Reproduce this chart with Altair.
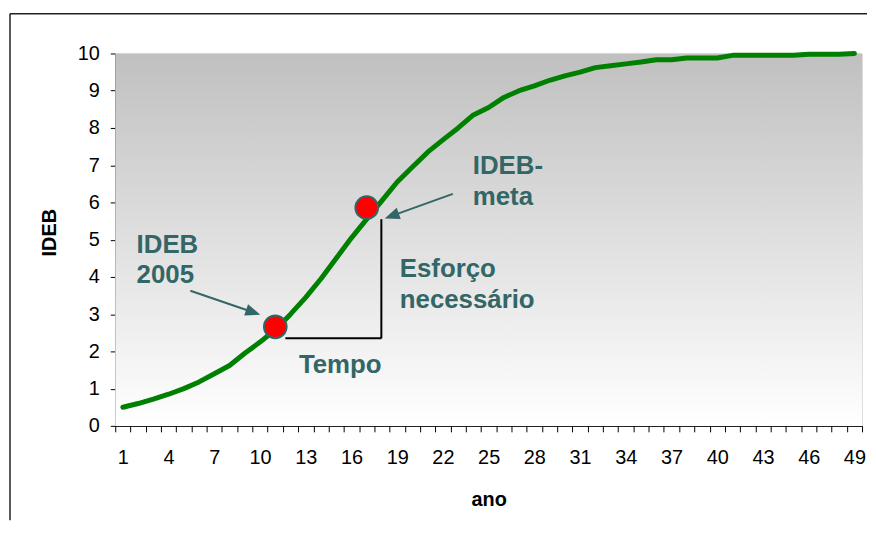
import altair as alt
import pandas as pd

# ---- data ----
anos = list(range(1, 50))
ideb = [0.50, 0.60, 0.72, 0.85, 1.00, 1.18, 1.40, 1.62, 1.95, 2.25,
        2.58, 3.00, 3.45, 3.95, 4.50, 5.05, 5.55, 6.05, 6.55, 6.95,
        7.35, 7.68, 8.00, 8.35, 8.55, 8.82, 9.00, 9.13, 9.28, 9.40,
        9.50, 9.62, 9.67, 9.72, 9.77, 9.83, 9.83, 9.88, 9.88, 9.88,
        9.95, 9.95, 9.95, 9.95, 9.95, 9.98, 9.98, 9.98, 10.00]

pontos_ano = [11, 17]
pontos_ideb = [2.66, 5.86]

rotulos = ["IDEB\n2005", "IDEB-\nmeta", "Esforço\nnecessário", "Tempo"]
rotulo_x = [1.90, 23.96, 19.17, 12.55]
rotulo_y = [4.65, 6.77, 3.99, 1.43]

linha_x = [11.66, 17.96]
linha_x2 = [17.96, 17.96]
linha_y = [2.35, 2.35]
linha_y2 = [2.35, 5.55]

seta_x = [5.43, 22.65]
seta_y = [3.63, 6.23]
seta_x2 = [9.55, 18.64]
seta_y2 = [3.05, 5.64]
seta_ang = [18.85, 160.0]

x_ticks = [i + 0.5 for i in range(0, 50)]
y_ticks = list(range(0, 11))

FONT = "Liberation Sans"
TEAL = "#336666"
W, H = 752, 375
CAT_W = W / 49.0

df_curve = pd.DataFrame({"ano": anos, "ideb": ideb})
df_pts = pd.DataFrame({"ano": pontos_ano, "ideb": pontos_ideb})
df_txt = pd.DataFrame({"ano": rotulo_x, "ideb": rotulo_y, "t": rotulos})
df_lin = pd.DataFrame({"ano": linha_x, "ano2": linha_x2, "ideb": linha_y, "ideb2": linha_y2})
df_seta = pd.DataFrame({"ano": seta_x, "ideb": seta_y, "ano2": seta_x2, "ideb2": seta_y2, "a": seta_ang})
df_one = pd.DataFrame({"k": [0]})

xscale = alt.Scale(domain=[0.5, 49.5], nice=False, zero=False)
yscale = alt.Scale(domain=[0, 10], nice=False, zero=False)

xaxis = alt.Axis(
    values=x_ticks,
    labelExpr="((datum.value + 0.5) % 3 == 1) ? toString(datum.value + 0.5) : ''",
    labelOffset=CAT_W / 2,
    tickSize=6, tickColor="black", domainColor="black",
    labelFont=FONT, labelFontSize=20, labelColor="black", labelPadding=16,
    labelOverlap=False, labelFlush=False,
    grid=False,
    title="ano", titleFont=FONT, titleFontSize=20, titleFontWeight="bold",
    titleColor="black", titleX=W / 2, titleY=80, titleBaseline="alphabetic",
    titleAlign="center",
)
yaxis = alt.Axis(
    values=y_ticks,
    tickSize=5, tickColor="black", domainColor="black",
    labelFont=FONT, labelFontSize=20, labelColor="black", labelPadding=11,
    grid=False,
    title="IDEB", titleFont=FONT, titleFontSize=20, titleFontWeight="bold",
    titleColor="black", titleX=-66, titleY=180, titleAngle=270,
    titleAlign="center", titleBaseline="middle",
)


def X(f):
    return alt.X(f, type="quantitative", scale=xscale, axis=xaxis)


def Y(f):
    return alt.Y(f, type="quantitative", scale=yscale, axis=yaxis)


gradient = {
    "gradient": "linear",
    "x1": 0, "y1": 0, "x2": 0, "y2": 1,
    "stops": [
        {"offset": 0, "color": "#C0C0C0"},
        {"offset": 1, "color": "#FFFFFF"},
    ],
}

bg = alt.Chart(df_one).mark_rect(color=gradient).encode(
    x=alt.value(0), x2=alt.value("width"), y=alt.value(0), y2=alt.value("height")
)

frame_top = alt.Chart(df_one).mark_rule(color="#222222", strokeWidth=1.5).encode(
    x=alt.value(-106), x2=alt.value(757), y=alt.value(-40), y2=alt.value(-40)
)
frame_left = alt.Chart(df_one).mark_rule(color="#222222", strokeWidth=1.5).encode(
    x=alt.value(-106), x2=alt.value(-106), y=alt.value(-40), y2=alt.value(470)
)

curve = alt.Chart(df_curve).mark_line(
    color="#008000", strokeWidth=5, strokeJoin="round", strokeCap="round"
).encode(x=X("ano"), y=Y("ideb"))

bracket = alt.Chart(df_lin).mark_rule(color="black", strokeWidth=2).encode(
    x=X("ano"), x2="ano2", y=Y("ideb"), y2="ideb2"
)

shaft = alt.Chart(df_seta).mark_rule(color=TEAL, strokeWidth=2).encode(
    x=X("ano"), x2="ano2", y=Y("ideb"), y2="ideb2"
)

head = alt.Chart(df_seta).mark_point(
    shape="M1,0L-1,-0.8L-1,0.8Z", filled=True, color=TEAL, opacity=1, size=225
).encode(
    x=X("ano2"), y=Y("ideb2"), angle=alt.Angle("a:Q", scale=None)
)

dots = alt.Chart(df_pts).mark_circle(
    size=520, color="#FF0000", opacity=1, stroke=TEAL, strokeWidth=2
).encode(x=X("ano"), y=Y("ideb"))

texts = alt.Chart(df_txt).mark_text(
    align="left", baseline="alphabetic", font=FONT, fontSize=26, fontWeight="bold",
    color=TEAL, lineBreak="\n", lineHeight=31
).encode(x=X("ano"), y=Y("ideb"), text="t:N")

chart = alt.layer(bg, frame_top, frame_left, curve, bracket, shaft, head, dots, texts).properties(
    width=W, height=H,
    autosize=alt.AutoSizeParams(type="none"),
    padding={"left": 108, "top": 44, "right": 6, "bottom": 95},
).configure_view(stroke="#808080", strokeWidth=1.5).configure(background="white")

chart.save("out.html", embed_options={"renderer": "svg", "actions": False})
